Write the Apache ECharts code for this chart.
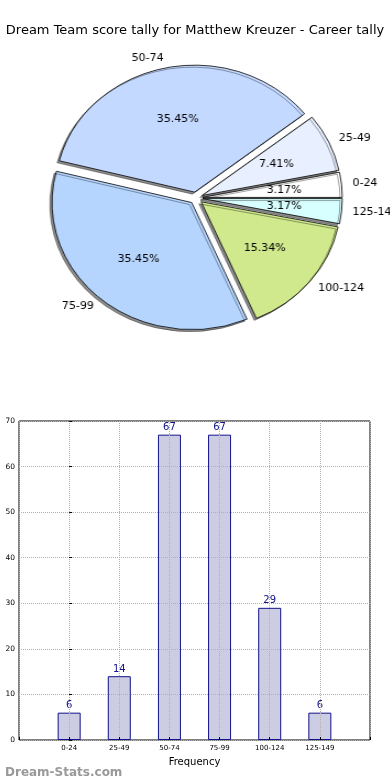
<!DOCTYPE html>
<html>
<head>
<meta charset="utf-8">
<script src="https://cdn.jsdelivr.net/npm/echarts@6/dist/echarts.min.js"></script>
<style>
html,body{margin:0;padding:0;background:#fff;overflow:hidden;width:390px;height:780px;}
#wrap{position:relative;width:390px;height:780px;overflow:hidden;}
#c{position:absolute;left:0;top:0;width:390px;height:780px;}
#p{position:absolute;left:0;top:40px;width:390px;height:340px;transform-origin:196px 0;transform:scaleX(1.1);}
</style>
</head>
<body>
<div id="wrap"><div id="c"></div><div id="p"></div></div>
<script>
const titleText = 'Dream Team score tally for Matthew Kreuzer - Career tally';
const categories = ['0-24', '25-49', '50-74', '75-99', '100-124', '125-149'];
const counts = [6, 14, 67, 67, 29, 6];
const pieColors = ['#ffffff', '#e8f0ff', '#c4d9ff', '#b5d5ff', '#cfe98c', '#d8ffff'];
const yTicks = { min: 0, max: 70, interval: 10 };
const xLabel = 'Frequency';
const watermark = 'Dream-Stats.com';

const total = counts.reduce((a, b) => a + b, 0);
const FONT = 'DejaVu Sans';
const R = 127;
const CENTER = [196, 158];
const OFFSET = 6;

const pieData = categories.map((c, i) => ({
  name: c, value: counts[i], selected: true,
  itemStyle: { color: pieColors[i] }
}));

const chart = echarts.init(document.getElementById('c'));
chart.setOption({
  animation: false,
  backgroundColor: '#fff',
  title: [
    { text: titleText, left: 'center', top: 19,
      textStyle: { fontFamily: FONT, fontSize: 13, fontWeight: 'normal', color: '#000' } },
    { text: watermark, left: 0, top: 762,
      textStyle: { fontFamily: FONT, fontSize: 12, fontWeight: 'bold', color: '#999' } }
  ],
  grid: { left: 19, top: 421, width: 351, height: 319, show: true,
          borderColor: '#000', borderWidth: 1, backgroundColor: '#fff' },
  xAxis: {
    type: 'value', min: -1, max: 6, interval: 1, z: 3,
    axisLine: { show: false },
    axisTick: { show: true, inside: true, length: 3, lineStyle: { color: '#000' } },
    axisLabel: { fontFamily: FONT, fontSize: 7, color: '#000', margin: 5,
      formatter: v => (v >= 0 && v < categories.length) ? categories[v] : '' },
    splitLine: { show: true, lineStyle: { color: '#b0b0b0', type: 'dotted', width: 1 } },
    name: xLabel, nameLocation: 'middle', nameGap: 17,
    nameTextStyle: { fontFamily: FONT, fontSize: 10, color: '#000' }
  },
  yAxis: {
    type: 'value', min: yTicks.min, max: yTicks.max, interval: yTicks.interval, z: 3,
    axisLine: { show: false },
    axisTick: { show: true, inside: true, length: 3, lineStyle: { color: '#000' } },
    axisLabel: { fontFamily: FONT, fontSize: 7.5, color: '#000', margin: 4 },
    splitLine: { show: true, lineStyle: { color: '#b0b0b0', type: 'dotted', width: 1 } }
  },
  series: [
    {
      type: 'bar', z: 2,
      data: counts.map((v, i) => [i, v]),
      barWidth: 23,
      itemStyle: { color: '#ccccE3', borderColor: '#12128a', borderWidth: 1 },
      label: { show: true, position: 'top', distance: 2, fontFamily: FONT, fontSize: 10, color: '#12128a' },
      emphasis: { disabled: true }
    }
  ]
});

const pie = echarts.init(document.getElementById('p'));
pie.setOption({
  animation: false,
  series: [
    {
      type: 'pie', center: CENTER, radius: [0, R],
      startAngle: 0, clockwise: false,
      selectedMode: 'multiple', selectedOffset: OFFSET,
      avoidLabelOverlap: false, silent: true,
      data: pieData,
      itemStyle: { borderColor: '#000', borderWidth: 0.8,
        shadowColor: 'rgba(0,0,0,0.45)', shadowBlur: 0, shadowOffsetX: -2, shadowOffsetY: 2 },
      label: { show: true, position: 'outside', fontFamily: FONT, fontSize: 10, color: '#000',
        distanceToLabelLine: 0, formatter: '{b}' },
      labelLine: { show: false, length: 10, length2: 0 },
      emphasis: { disabled: true }
    },
    {
      type: 'pie', center: CENTER, radius: [16, R],
      startAngle: 0, clockwise: false,
      selectedMode: 'multiple', selectedOffset: OFFSET,
      avoidLabelOverlap: false, silent: true, z: 3,
      data: categories.map((c, i) => ({ name: c, value: counts[i], selected: true })),
      itemStyle: { color: 'rgba(0,0,0,0)', borderWidth: 0 },
      label: { show: true, position: 'inside', fontFamily: FONT, fontSize: 10, color: '#000',
        formatter: p => (p.value / total * 100).toFixed(2) + '%' },
      labelLine: { show: false },
      emphasis: { disabled: true }
    }
  ]
});
</script>
</body>
</html>
